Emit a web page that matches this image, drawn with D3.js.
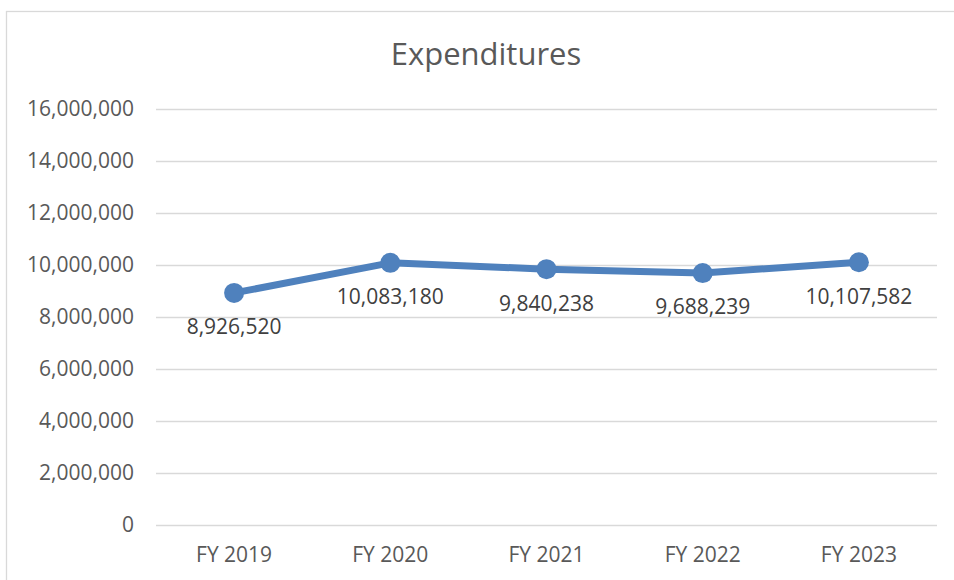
<!DOCTYPE html>
<html>
<head>
<meta charset="utf-8">
<script src="https://cdn.jsdelivr.net/npm/d3@7"></script>
<style>
  body { margin: 0; background: #fff; }
  svg { display: block; font-family: "Open Sans", "Liberation Sans", sans-serif; }
</style>
</head>
<body>
<svg id="chart" width="954" height="580"></svg>
<script>
// ── Data ──
const categories = ["FY 2019", "FY 2020", "FY 2021", "FY 2022", "FY 2023"];
const expenditures = [8926520, 10083180, 9840238, 9688239, 10107582];
const yTicks = [0, 2000000, 4000000, 6000000, 8000000, 10000000, 12000000, 14000000, 16000000];

const svg = d3.select('#chart');
const plot = { left: 156, right: 937, top: 109, bottom: 525 };
const textColor = '#595959';

// chart frame (right / bottom edges fall outside the picture)
svg.append('rect')
    .attr('x', 6.5).attr('y', 11.5).attr('width', 1000).attr('height', 1000)
    .attr('fill', 'none').attr('stroke', '#d9d9d9').attr('stroke-width', 1.3);

const x = d3.scaleBand().domain(categories).range([plot.left, plot.right]);
const y = d3.scaleLinear().domain([0, 16000000]).range([plot.bottom, plot.top]);
const fmt = d3.format(',');

// gridlines
svg.append('g').selectAll('line')
    .data(yTicks).enter().append('line')
    .attr('x1', plot.left).attr('x2', plot.right)
    .attr('y1', d => Math.round(y(d)) + 0.5).attr('y2', d => Math.round(y(d)) + 0.5)
    .attr('stroke', '#d9d9d9').attr('stroke-width', 1.5);

// y axis labels
svg.append('g').selectAll('text')
    .data(yTicks).enter().append('text')
    .attr('x', 134).attr('y', d => y(d))
    .attr('dy', '0.35em').attr('text-anchor', 'end')
    .attr('font-size', 21).attr('fill', textColor)
    .text(d => fmt(d));

// x axis labels
svg.append('g').selectAll('text')
    .data(categories).enter().append('text')
    .attr('x', d => x(d) + x.bandwidth() / 2).attr('y', 555)
    .attr('dy', '0.35em').attr('text-anchor', 'middle')
    .attr('font-size', 21).attr('fill', textColor)
    .text(d => d);

// title
svg.append('text')
    .attr('x', 486).attr('y', 54).attr('dy', '0.35em')
    .attr('text-anchor', 'middle').attr('font-size', 31).attr('fill', textColor)
    .text('Expenditures');

// line + markers
const pts = categories.map((c, i) => [x(c) + x.bandwidth() / 2, y(expenditures[i])]);
const lineColor = '#4f81bd';

svg.append('path')
    .datum(pts)
    .attr('d', d3.line())
    .attr('fill', 'none').attr('stroke', lineColor)
    .attr('stroke-width', 7).attr('stroke-linejoin', 'round');

svg.append('g').selectAll('circle')
    .data(pts).enter().append('circle')
    .attr('cx', d => d[0]).attr('cy', d => d[1]).attr('r', 10)
    .attr('fill', lineColor);

// data labels (below points)
svg.append('g').selectAll('text')
    .data(pts).enter().append('text')
    .attr('x', d => d[0]).attr('y', d => d[1] + 34)
    .attr('dy', '0.35em').attr('text-anchor', 'middle')
    .attr('font-size', 21).attr('fill', '#404040')
    .text((d, i) => fmt(expenditures[i]));
</script>
</body>
</html>
